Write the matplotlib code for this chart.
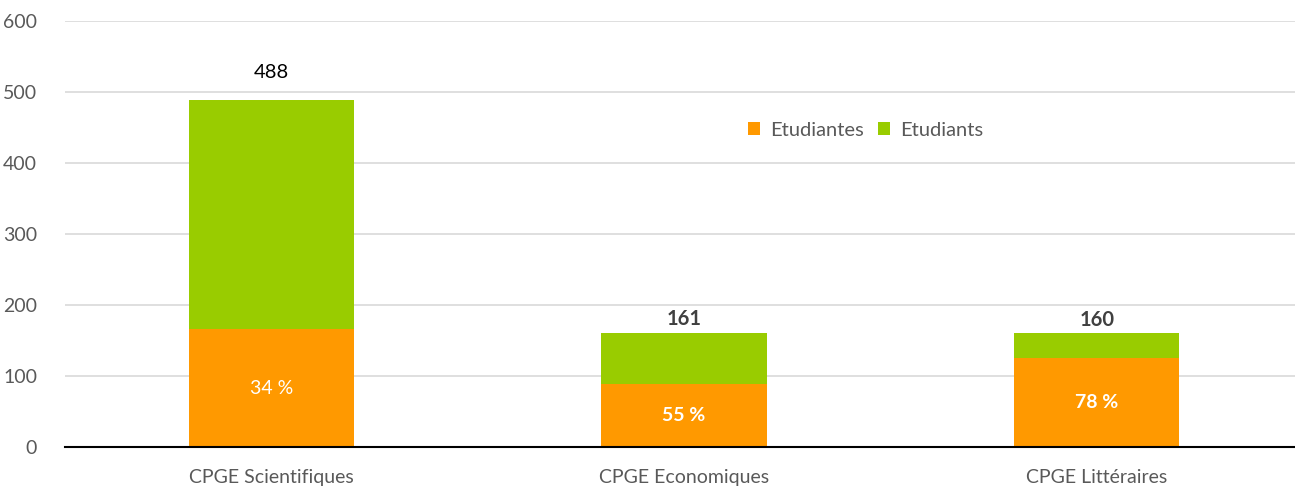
import matplotlib
matplotlib.use('Agg')
import matplotlib.pyplot as plt
import numpy as np

categories = ['CPGE Scientifiques', 'CPGE Economiques', 'CPGE Littéraires']
etudiantes = [166, 89, 125]
etudiants = [322, 72, 35]
totals = [488, 161, 160]
pct_labels = ['34 %', '55 %', '78 %']
bold_flags = [False, True, True]

plt.rcParams['font.family'] = ['Lato', 'DejaVu Sans']

fig = plt.figure(figsize=(12.95, 4.87), dpi=100)
ax = fig.add_axes([0.050, 0.082, 0.95, 0.875])

x = np.arange(len(categories))
w = 0.4
b1 = ax.bar(x, etudiantes, w, color='#FF9900', label='Etudiantes', zorder=3)
b2 = ax.bar(x, etudiants, w, bottom=etudiantes, color='#99CC00', label='Etudiants', zorder=3)

for i in range(len(categories)):
    weight = 'bold' if bold_flags[i] else 'normal'
    ax.text(x[i], etudiantes[i] / 2, pct_labels[i], ha='center', va='center',
            color='white', fontsize=14, fontweight=weight, zorder=4)
    off = 20 if i == 0 else 10
    ax.annotate(str(totals[i]), (x[i], totals[i]), xytext=(0, off),
                textcoords='offset points', ha='center', va='center',
                fontsize=14.5, fontweight=weight,
                color='black' if i == 0 else '#404040')

ax.set_xlim(-0.5, 2.48)
ax.set_ylim(0, 600)
ax.set_yticks(range(0, 601, 100))
ax.set_xticks(x)
ax.set_xticklabels(categories)
ax.tick_params(axis='both', length=0, labelsize=14, labelcolor='#595959')
ax.tick_params(axis='y', pad=20)
ax.tick_params(axis='x', pad=16)
ax.grid(axis='y', color='#D9D9D9', linewidth=1.2, zorder=0)
for s in ['top', 'right', 'left']:
    ax.spines[s].set_visible(False)
ax.spines['bottom'].set_color('black')
ax.spines['bottom'].set_linewidth(1.5)
ax.spines['bottom'].set_zorder(5)

leg = ax.legend(loc='center', bbox_to_anchor=(0.651, 0.744), ncol=2, frameon=False,
                fontsize=14.5, handlelength=0.6, handleheight=0.6, columnspacing=0.7,
                handletextpad=0.5)
for t in leg.get_texts():
    t.set_color('#595959')

fig.savefig('out.png', dpi=100)
